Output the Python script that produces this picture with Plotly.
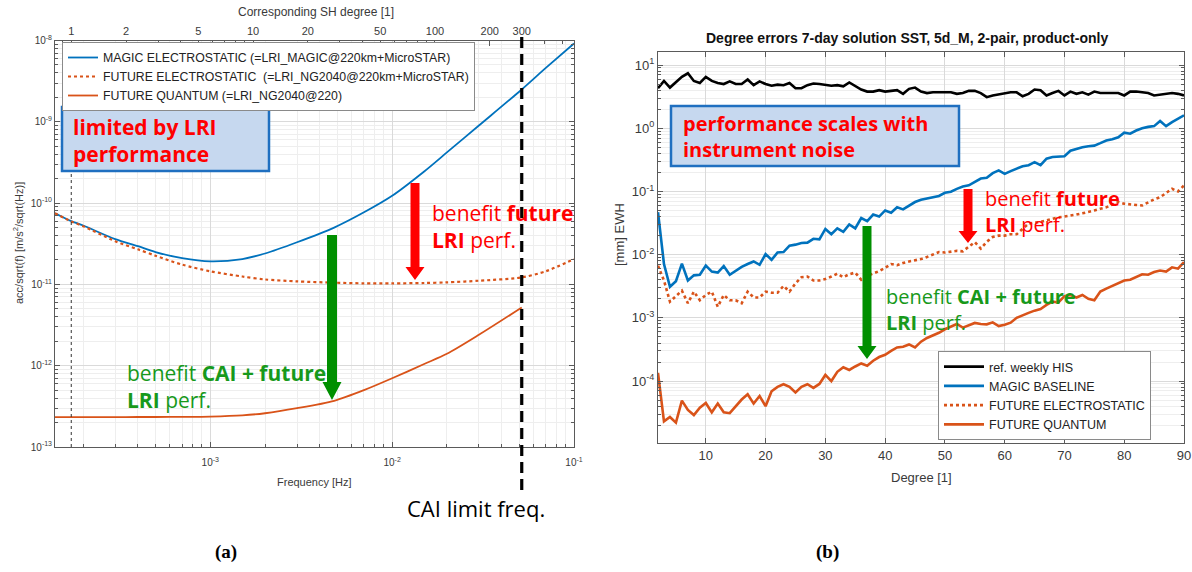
import math
import plotly.graph_objects as go

W, H = 1192, 572

# ---------------- (a) acceleration noise vs frequency ----------------
freq_hz = [1.4e-4, 1.72e-4, 2e-4, 3e-4, 4e-4, 5e-4, 7e-4, 1e-3, 1.5e-3, 2e-3,
           3e-3, 4.8e-3, 7e-3, 1e-2, 1.5e-2, 2e-2, 3e-2, 5.16e-2, 7e-2, 1e-1]
magic_es = [7.5e-11, 6.0e-11, 5.3e-11, 3.6e-11, 2.95e-11, 2.5e-11, 2.1e-11, 1.92e-11, 2.05e-11, 2.4e-11,
            3.3e-11, 5.0e-11, 7.7e-11, 1.23e-10, 2.45e-10, 4.2e-10, 9.0e-10, 2.5e-9, 4.6e-9, 9.2e-9]
future_es = [7.5e-11, 5.95e-11, 5.2e-11, 3.4e-11, 2.7e-11, 2.25e-11, 1.75e-11, 1.45e-11, 1.25e-11, 1.15e-11,
             1.09e-11, 1.05e-11, 1.03e-11, 1.03e-11, 1.04e-11, 1.06e-11, 1.11e-11, 1.22e-11, 1.45e-11, 2.05e-11]
future_quantum = [2.33e-13, 2.33e-13, 2.33e-13, 2.33e-13, 2.34e-13, 2.34e-13, 2.35e-13, 2.37e-13, 2.45e-13, 2.6e-13,
                  3.0e-13, 3.7e-13, 5.0e-13, 7.0e-13, 1.05e-12, 1.4e-12, 2.4e-12, 5.2e-12, None, None]
sh_degree_ticks = [1, 2, 5, 10, 20, 50, 100, 200, 300]
orbit_freq_hz = 1.72e-4        # frequency of SH degree 1
cai_limit_degree = 300

# ---------------- (b) degree errors ----------------
degree = list(range(2, 91))
his_weekly = [4.3, 5.6, 4.4, 5.4, 6.5, 7.4, 5.6, 5.2, 6.5, 5.6,
              5.2, 5.0, 5.5, 5.0, 5.0, 5.9, 4.8, 5.5, 5.0, 4.7,
              4.9, 4.8, 5.2, 4.3, 4.3, 4.8, 5.1, 5.0, 4.9, 4.7,
              4.8, 4.6, 5.3, 4.6, 4.1, 3.8, 3.8, 4.0, 3.8, 3.9,
              4.0, 3.5, 4.2, 4.4, 3.8, 3.6, 3.7, 3.7, 3.7, 3.7,
              3.5, 3.6, 3.9, 3.9, 3.6, 3.1, 3.3, 3.4, 3.6, 3.7,
              3.7, 3.2, 3.5, 4.1, 4.0, 3.3, 3.6, 3.9, 3.3, 3.8,
              3.5, 3.7, 3.4, 3.8, 3.6, 3.6, 3.6, 3.6, 3.3, 3.8,
              3.8, 3.7, 3.6, 3.3, 3.4, 3.5, 3.6, 3.5, 3.3]
magic_baseline = [0.047, 0.0071, 0.0031, 0.0038, 0.0072, 0.0039, 0.0047, 0.0048, 0.0067, 0.0054,
                  0.0052, 0.0066, 0.0048, 0.0055, 0.0064, 0.0071, 0.0078, 0.0069, 0.0102, 0.0083,
                  0.0108, 0.011, 0.0139, 0.0144, 0.0153, 0.0155, 0.0178, 0.0175, 0.0255, 0.021,
                  0.026, 0.023, 0.030, 0.026, 0.038, 0.034, 0.043, 0.040, 0.050, 0.046,
                  0.056, 0.052, 0.060, 0.068, 0.074, 0.077, 0.082, 0.085, 0.095, 0.099,
                  0.110, 0.120, 0.125, 0.140, 0.160, 0.165, 0.195, 0.215, 0.190, 0.210,
                  0.230, 0.250, 0.260, 0.290, 0.260, 0.330, 0.350, 0.355, 0.360, 0.440,
                  0.470, 0.500, 0.520, 0.530, 0.580, 0.640, 0.670, 0.720, 0.850, 0.820,
                  0.920, 1.000, 1.050, 1.080, 1.300, 1.080, 1.250, 1.400, 1.600]
future_es_deg = [0.0067, 0.0039, 0.0018, 0.0022, 0.0027, 0.0017, 0.0026, 0.0019, 0.0023, 0.0026,
                 0.0015, 0.0023, 0.0019, 0.0019, 0.0017, 0.0026, 0.0021, 0.0021, 0.0026, 0.0025,
                 0.0025, 0.0032, 0.0026, 0.0035, 0.0044, 0.0045, 0.0039, 0.0039, 0.0041, 0.0045,
                 0.0050, 0.0044, 0.0049, 0.0052, 0.0040, 0.0046, 0.0050, 0.0055, 0.0062, 0.0071,
                 0.0068, 0.0074, 0.0078, 0.0082, 0.0085, 0.0092, 0.0100, 0.0110, 0.0108, 0.0112,
                 0.0115, 0.0113, 0.0135, 0.0158, 0.0125, 0.0160, 0.0190, 0.0200, 0.0200, 0.0210,
                 0.0210, 0.0260, 0.0310, 0.0320, 0.0330, 0.0350, 0.0370, 0.0390, 0.0400, 0.0420,
                 0.0430, 0.0450, 0.0480, 0.0500, 0.0530, 0.0560, 0.0620, 0.0680, 0.0640, 0.0620,
                 0.0610, 0.0600, 0.0680, 0.0750, 0.0810, 0.0950, 0.1100, 0.1000, 0.1240]
future_quantum_deg = [1.35e-4, 2.3e-5, 2.7e-5, 2.2e-5, 4.9e-5, 3.5e-5, 2.9e-5, 3.8e-5, 4.5e-5, 3.2e-5,
                      4.4e-5, 3.2e-5, 3.1e-5, 4.0e-5, 5.1e-5, 6.2e-5, 4.4e-5, 5.8e-5, 4.0e-5, 6.9e-5,
                      8.1e-5, 8.9e-5, 8.1e-5, 6.6e-5, 8.1e-5, 8.9e-5, 7.8e-5, 9.0e-5, 1.25e-4, 1.0e-4,
                      1.4e-4, 1.65e-4, 1.5e-4, 1.7e-4, 1.9e-4, 1.75e-4, 2.1e-4, 2.4e-4, 2.6e-4, 3.0e-4,
                      3.4e-4, 3.5e-4, 3.8e-4, 3.4e-4, 4.2e-4, 4.8e-4, 5.2e-4, 5.8e-4, 6.6e-4, 7.2e-4,
                      8.0e-4, 7.0e-4, 7.6e-4, 8.3e-4, 8.0e-4, 7.9e-4, 8.5e-4, 7.4e-4, 7.8e-4, 8.4e-4,
                      1.0e-3, 1.08e-3, 1.2e-3, 1.3e-3, 1.38e-3, 1.6e-3, 1.8e-3, 1.75e-3, 2.2e-3, 2.3e-3,
                      2.1e-3, 2.3e-3, 2.0e-3, 1.9e-3, 2.6e-3, 2.9e-3, 3.2e-3, 3.5e-3, 3.9e-3, 4.0e-3,
                      4.4e-3, 4.9e-3, 4.8e-3, 5.3e-3, 5.6e-3, 5.4e-3, 6.3e-3, 6.0e-3, 7.6e-3]
left_y_exponents = [-13, -12, -11, -10, -9, -8]
left_x_exponents = [-3, -2, -1]
right_y_exponents = [-4, -3, -2, -1, 0, 1]
right_x_ticks = [10, 20, 30, 40, 50, 60, 70, 80, 90]

# ---------------- styling / geometry ----------------
BLUE, ORANGE = "#0072BD", "#D95319"
RED, GREEN_TXT, GREEN_ARR = "#FF0000", "#17991b", "#008f00"
GRID, MINOR_GRID, AXCOL, TICKCOL = "#dadada", "#eeeeee", "#5a5a5a", "#3a3a3a"
FONT = "Liberation Sans, Arial, sans-serif"
OVER = "Open Sans, sans-serif"


def px(x):
    return x / W


def py(y):
    return 1 - y / H


def pow_ticks(exps):
    return [10.0 ** e for e in exps], [f"10<sup>{e}</sup>" for e in exps]


LX = [55, 574]
LY = [40.5, 447]
RX = [658, 1184]
RY = [52, 443]
lxr = [math.log10(1.4e-4), -1.0]
lyr = [-13, -8]
ryr = [-4.98, 1.206]


def fx_paper(f):
    t = (math.log10(f) - lxr[0]) / (lxr[1] - lxr[0])
    return px(LX[0]) + t * (px(LX[1]) - px(LX[0]))


fig = go.Figure()

fig.add_trace(go.Scatter(x=freq_hz, y=magic_es, mode="lines", xaxis="x", yaxis="y",
                         line=dict(color=BLUE, width=1.8, shape="spline", smoothing=0.8),
                         name="MAGIC ELECTROSTATIC (=LRI_MAGIC@220km+MicroSTAR)", legend="legend"))
fig.add_trace(go.Scatter(x=freq_hz, y=future_es, mode="lines", xaxis="x", yaxis="y",
                         line=dict(color=ORANGE, width=2.2, dash="dot", shape="spline", smoothing=0.8),
                         name="FUTURE ELECTROSTATIC  (=LRI_NG2040@220km+MicroSTAR)", legend="legend"))
fig.add_trace(go.Scatter(x=freq_hz, y=future_quantum, mode="lines", xaxis="x", yaxis="y",
                         line=dict(color=ORANGE, width=1.8, shape="spline", smoothing=0.8),
                         name="FUTURE QUANTUM (=LRI_NG2040@220)", legend="legend"))
# invisible trace so the top degree axis is drawn
fig.add_trace(go.Scatter(x=[sh_degree_ticks[0], sh_degree_ticks[-1]], y=[1e-13, 1e-13], xaxis="x2", yaxis="y",
                         mode="markers", marker=dict(opacity=0), showlegend=False, hoverinfo="skip"))

fig.add_trace(go.Scatter(x=degree, y=his_weekly, mode="lines", xaxis="x3", yaxis="y3",
                         line=dict(color="black", width=2.6), name="ref. weekly HIS", legend="legend2"))
fig.add_trace(go.Scatter(x=degree, y=magic_baseline, mode="lines", xaxis="x3", yaxis="y3",
                         line=dict(color=BLUE, width=2.6), name="MAGIC BASELINE", legend="legend2"))
fig.add_trace(go.Scatter(x=degree, y=future_es_deg, mode="lines", xaxis="x3", yaxis="y3",
                         line=dict(color=ORANGE, width=2.6, dash="dot"), name="FUTURE ELECTROSTATIC",
                         legend="legend2"))
fig.add_trace(go.Scatter(x=degree, y=future_quantum_deg, mode="lines", xaxis="x3", yaxis="y3",
                         line=dict(color=ORANGE, width=2.6), name="FUTURE QUANTUM", legend="legend2"))

axis_common = dict(showline=True, linecolor=AXCOL, linewidth=1, ticks="inside", tickcolor=AXCOL,
                   zeroline=False, automargin=False, ticklabeloverflow="allow")

lyv, lyt = pow_ticks(left_y_exponents)
lxv, lxt = pow_ticks(left_x_exponents)
ryv, ryt = pow_ticks(right_y_exponents)

fig.update_layout(
    width=W, height=H, margin=dict(l=0, r=0, t=0, b=0),
    paper_bgcolor="white", plot_bgcolor="white", template="none",
    font=dict(family=FONT, color=TICKCOL),
    xaxis=dict(axis_common, type="log", domain=[px(LX[0]), px(LX[1])], range=lxr, anchor="y",
               tickvals=lxv, ticktext=lxt, ticklen=5, ticklabelstandoff=6, showgrid=True, gridcolor=GRID,
               minor=dict(dtick="D1", ticks="inside", ticklen=3, tickcolor=AXCOL, showgrid=True,
                          gridcolor=MINOR_GRID),
               tickfont=dict(size=10, color=TICKCOL)),
    xaxis2=dict(axis_common, type="log", overlaying="x", side="top", anchor="y",
                range=[lxr[0] - math.log10(orbit_freq_hz), lxr[1] - math.log10(orbit_freq_hz)],
                tickvals=sh_degree_ticks, ticktext=[str(v) for v in sh_degree_ticks], ticklen=5,
                showgrid=False, minor=dict(dtick="D1", ticks="inside", ticklen=3, tickcolor=AXCOL),
                tickfont=dict(size=11, color=TICKCOL)),
    yaxis=dict(axis_common, type="log", domain=[py(LY[1]), py(LY[0])], range=lyr, anchor="x",
               tickvals=lyv, ticktext=lyt, ticklen=5, mirror="ticks", showgrid=True, gridcolor=GRID,
               minor=dict(dtick="D1", ticks="inside", ticklen=3, tickcolor=AXCOL, showgrid=True,
                          gridcolor=MINOR_GRID),
               tickfont=dict(size=10, color=TICKCOL)),
    xaxis3=dict(axis_common, domain=[px(RX[0]), px(RX[1])], range=[2, 90], anchor="y3",
                tickvals=right_x_ticks, ticklen=5, mirror="ticks", showgrid=True, gridcolor=GRID,
                tickfont=dict(size=13, color=TICKCOL)),
    yaxis3=dict(axis_common, type="log", domain=[py(RY[1]), py(RY[0])], range=ryr, anchor="x3",
                tickvals=ryv, ticktext=ryt, ticklen=5, mirror="ticks", showgrid=True, gridcolor=GRID,
                minor=dict(dtick="D1", ticks="inside", ticklen=3, tickcolor=AXCOL, showgrid=True,
                           gridcolor=MINOR_GRID),
                tickfont=dict(size=13, color=TICKCOL)),
    legend=dict(x=px(62), y=py(42), xanchor="left", yanchor="top", bgcolor="white",
                bordercolor="#8a8a8a", borderwidth=1, font=dict(size=12.3, color="#222"),
                itemwidth=30, tracegroupgap=0),
    legend2=dict(x=px(938), y=py(351), xanchor="left", yanchor="top", bgcolor="white",
                 bordercolor="#8a8a8a", borderwidth=1, font=dict(size=12.5, color="#222"),
                 itemwidth=40, tracegroupgap=0),
    showlegend=True,
)


def arrow_path(xc, y_top, y_tip, shaft_hw, head_hw, head_len):
    yh = y_tip - head_len
    pts = [(xc - shaft_hw, y_top), (xc + shaft_hw, y_top), (xc + shaft_hw, yh), (xc + head_hw, yh),
           (xc, y_tip), (xc - head_hw, yh), (xc - shaft_hw, yh)]
    return "M " + " L ".join(f"{px(a):.5f},{py(b):.5f}" for a, b in pts) + " Z"


shapes = []
# vertical markers on (a)
x_deg1 = fx_paper(orbit_freq_hz)
x_cai = fx_paper(orbit_freq_hz * cai_limit_degree)
shapes.append(dict(type="line", xref="paper", yref="paper", x0=x_deg1, x1=x_deg1, y0=py(LY[1]), y1=py(LY[0]),
                   line=dict(color="#333", width=1, dash="dot"), layer="above"))
shapes.append(dict(type="line", xref="paper", yref="paper", x0=x_cai, x1=x_cai, y0=py(490), y1=py(33),
                   line=dict(color="black", width=3.2, dash="11px,6px"), layer="above"))
# blue boxes
shapes.append(dict(type="rect", xref="paper", yref="paper", x0=px(62), x1=px(269), y0=py(171), y1=py(107),
                   fillcolor="#c6d8ef", line=dict(color="#1f6fc0", width=2.5), layer="above"))
shapes.append(dict(type="rect", xref="paper", yref="paper", x0=px(671), x1=px(959), y0=py(166), y1=py(106),
                   fillcolor="#c6d8ef", line=dict(color="#1f6fc0", width=2.5), layer="above"))
# arrows
for xc, yt, ytip, shw, hhw, hl, col in [
    (415, 183, 280, 4.5, 9.5, 13, RED),
    (332, 235, 400, 5, 9.5, 18, GREEN_ARR),
    (968, 189, 243, 4.5, 9.5, 12, RED),
    (867, 226, 359, 4.5, 9.5, 13, GREEN_ARR),
]:
    shapes.append(dict(type="path", xref="paper", yref="paper", path=arrow_path(xc, yt, ytip, shw, hhw, hl),
                       fillcolor=col, line=dict(width=0), layer="above"))
fig.update_layout(shapes=shapes)

ann = []


def text(x, y, s, size, color, xanchor="left", family=OVER, angle=0):
    ann.append(dict(x=px(x), y=py(y), xref="paper", yref="paper", text=s, showarrow=False,
                    xanchor=xanchor, yanchor="middle", align="left", textangle=angle,
                    font=dict(size=size, color=color, family=family)))


# axis titles
text(314, 482, "Frequency [Hz]", 11, TICKCOL, "center", FONT)
text(316, 12, "Corresponding SH degree [1]", 12, TICKCOL, "center", FONT)
text(18, 243, "acc/sqrt(f) [m/s<sup>2</sup>/sqrt(Hz)]", 11, TICKCOL, "center", FONT, -90)
text(921, 477, "Degree [1]", 13, TICKCOL, "center", FONT)
text(619, 235, "[mm] EWH", 13, TICKCOL, "center", FONT, -90)
text(907, 38, "<b>Degree errors 7-day solution SST, 5d_M, 2-pair, product-only</b>", 14, "#111", "center", FONT)
# overlays
text(71, 140, "<b>limited by LRI<br>performance</b>", 21, RED)
text(681, 137, "<b>performance scales with<br>instrument noise</b>", 20, RED)
text(430, 226, "benefit <b>future</b><br><b>LRI</b> perf.", 21, RED)
text(125, 386, "benefit <b>CAI + future</b><br><b>LRI</b> perf.", 21, GREEN_TXT)
text(983, 211, "benefit <b>future</b><br><b>LRI</b> perf.", 20, RED)
text(884, 309, "benefit <b>CAI + future</b><br><b>LRI</b> perf.", 20, GREEN_TXT)
text(405, 508, "CAI limit freq.", 22, "black")
# captions
text(226, 552, "<b>(a)</b>", 19, "black", "center", "Liberation Serif, Times New Roman, serif")
text(827, 552, "<b>(b)</b>", 19, "black", "center", "Liberation Serif, Times New Roman, serif")
fig.update_layout(annotations=ann)

fig.write_html("out.html", config={"displayModeBar": False})
